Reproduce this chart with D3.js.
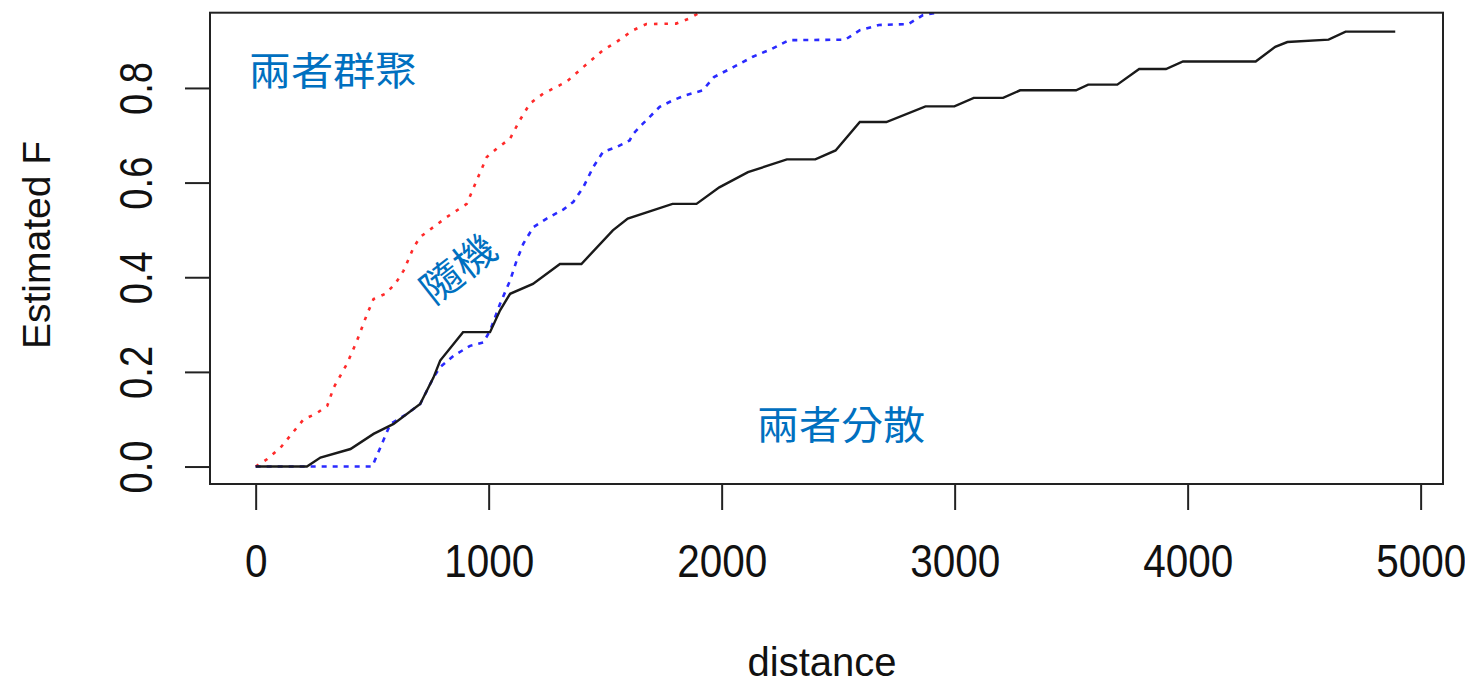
<!DOCTYPE html>
<html>
<head>
<meta charset="utf-8">
<script src="https://cdn.jsdelivr.net/npm/d3@7.9.0/dist/d3.min.js"></script>
<style>
  body { margin: 0; background: #fff; }
  svg { display: block; }
  .tick text { font-family: "Liberation Sans", Arial, sans-serif; fill: #111; }
  .note { font-family: "Noto Sans CJK TC", "Noto Sans CJK SC", sans-serif; fill: #0070c0; }
</style>
</head>
<body>
<svg id="chart" width="1465" height="688"></svg>
<script>
// observed F-hat (solid black)
const obsDist = [0, 220, 278, 407, 506, 592, 706, 763, 792, 890, 1006, 1049, 1092, 1190, 1306, 1398, 1533, 1597, 1789, 1892, 1990, 2113, 2280, 2402, 2489, 2593, 2707, 2875, 2999, 3082, 3208, 3281, 3521, 3573, 3698, 3792, 3907, 3980, 4292, 4376, 4428, 4605, 4678, 4891];
const obsF = [0, 0, 0.019, 0.037, 0.069, 0.090, 0.132, 0.188, 0.224, 0.284, 0.284, 0.33, 0.365, 0.386, 0.428, 0.428, 0.499, 0.524, 0.555, 0.555, 0.59, 0.622, 0.649, 0.649, 0.668, 0.728, 0.728, 0.761, 0.761, 0.779, 0.779, 0.795, 0.795, 0.807, 0.807, 0.840, 0.840, 0.856, 0.856, 0.887, 0.897, 0.902, 0.919, 0.919];

// upper envelope (red dotted)
const hiDist = [0, 50, 107, 206, 257, 307, 335, 392, 435, 478, 506, 556, 599, 635, 678, 706, 763, 820, 906, 949, 992, 1035, 1092, 1134, 1177, 1234, 1334, 1406, 1491, 1548, 1620, 1677, 1805, 1862, 1905, 1960];
const hiF = [0, 0.016, 0.04, 0.10, 0.111, 0.128, 0.167, 0.217, 0.266, 0.322, 0.354, 0.365, 0.386, 0.414, 0.463, 0.485, 0.506, 0.527, 0.555, 0.605, 0.654, 0.672, 0.693, 0.732, 0.767, 0.788, 0.813, 0.844, 0.880, 0.897, 0.922, 0.935, 0.936, 0.947, 0.959, 0.97];

// lower envelope (blue dashed)
const loDist = [0, 500, 535, 578, 649, 706, 763, 792, 849, 920, 977, 1006, 1049, 1092, 1120, 1149, 1192, 1249, 1320, 1363, 1406, 1449, 1491, 1548, 1605, 1620, 1663, 1734, 1791, 1848, 1919, 1967, 2050, 2134, 2217, 2290, 2530, 2593, 2675, 2801, 2864, 2927, 2980];
const loF = [0, 0, 0.04, 0.09, 0.111, 0.132, 0.188, 0.21, 0.234, 0.255, 0.262, 0.287, 0.344, 0.393, 0.435, 0.471, 0.506, 0.524, 0.543, 0.559, 0.590, 0.633, 0.665, 0.675, 0.689, 0.703, 0.725, 0.760, 0.774, 0.785, 0.795, 0.823, 0.844, 0.866, 0.883, 0.901, 0.902, 0.922, 0.933, 0.935, 0.954, 0.959, 0.97];

const xTicks = [0, 1000, 2000, 3000, 4000, 5000];
const yTicks = [0, 0.2, 0.4, 0.6, 0.8];

const notes = [
  { text: '兩者群聚', x: 333, y: 85, angle: 0 },
  { text: '隨機', x: 467, y: 280, angle: -38 },
  { text: '兩者分散', x: 841, y: 439, angle: 0 },
];

const box = { left: 210, right: 1443, top: 12.7, bottom: 484 };

// R style 4% padding around data range
let x = d3.scaleLinear().domain([-196, 5096]).range([box.left, box.right]);
let y = d3.scaleLinear().domain([-0.0369, 0.959]).range([box.bottom, box.top]);

const svg = d3.select('#chart');

svg.append('clipPath').attr('id', 'plot-clip')
  .append('rect')
  .attr('x', box.left).attr('y', box.top)
  .attr('width', box.right - box.left).attr('height', box.bottom - box.top);

let line = d3.line().x(d => x(d[0])).y(d => y(d[1]));

let curves = [
  { dist: hiDist, vals: hiF, color: '#ff2a2a', dash: '3.5,7', width: 2.6 },
  { dist: loDist, vals: loF, color: '#2a2aff', dash: '5,6', width: 2.6 },
  { dist: obsDist, vals: obsF, color: '#1a1a1a', dash: null, width: 2.4 },
];

let plot = svg.append('g').attr('clip-path', 'url(#plot-clip)');
curves.forEach(c => {
  plot.append('path')
    .datum(d3.zip(c.dist, c.vals))
    .attr('d', line)
    .attr('fill', 'none')
    .attr('stroke', c.color)
    .attr('stroke-width', c.width)
    .attr('stroke-dasharray', c.dash);
});

// axes
let xAxis = svg.append('g')
  .attr('transform', `translate(0,${box.bottom})`)
  .call(d3.axisBottom(x).tickValues(xTicks).tickSize(26).tickFormat(d3.format('d')));
xAxis.select('.domain').remove();
xAxis.selectAll('.tick line').attr('stroke', '#222').attr('stroke-width', 2);
xAxis.selectAll('.tick text')
  .attr('y', 93).attr('dy', null)
  .attr('font-size', 46)
  .attr('transform', 'scale(0.88,1)');

let yAxis = svg.append('g')
  .attr('transform', `translate(${box.left},0)`)
  .call(d3.axisLeft(y).tickValues(yTicks).tickSize(25).tickFormat(d3.format('.1f')));
yAxis.select('.domain').remove();
yAxis.selectAll('.tick line').attr('stroke', '#222').attr('stroke-width', 2);
yAxis.selectAll('.tick text')
  .attr('x', 0).attr('y', 0).attr('dy', null)
  .attr('text-anchor', 'middle')
  .attr('font-size', 46)
  .attr('transform', 'translate(-58,0) rotate(-90) scale(0.83,1)');

// plot frame
svg.append('rect')
  .attr('x', box.left).attr('y', box.top)
  .attr('width', box.right - box.left).attr('height', box.bottom - box.top)
  .attr('fill', 'none').attr('stroke', '#222').attr('stroke-width', 2);

// axis titles
svg.append('text')
  .attr('x', 822).attr('y', 676)
  .attr('text-anchor', 'middle')
  .attr('font-family', '"Liberation Sans", Arial, sans-serif')
  .attr('font-size', 40).attr('fill', '#111')
  .text('distance');

svg.append('text')
  .attr('transform', 'translate(50,245) rotate(-90)')
  .attr('text-anchor', 'middle')
  .attr('font-family', '"Liberation Sans", Arial, sans-serif')
  .attr('font-size', 39).attr('fill', '#111')
  .text('Estimated F');

// annotations
svg.selectAll('.note')
  .data(notes)
  .join('text')
  .attr('class', 'note')
  .attr('text-anchor', 'middle')
  .attr('font-size', 39)
  .attr('transform', d => `translate(${d.x},${d.y}) rotate(${d.angle}) scale(1.08,1)`)
  .text(d => d.text);
</script>
</body>
</html>
